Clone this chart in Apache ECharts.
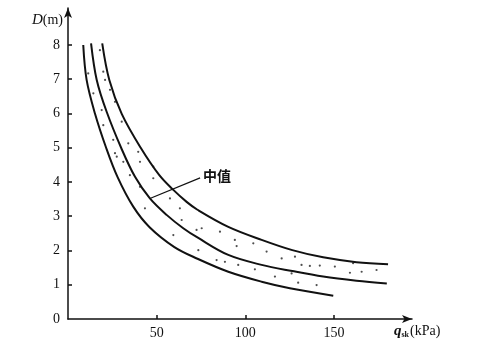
<!DOCTYPE html>
<html><head><meta charset="utf-8">
<script src="https://cdn.jsdelivr.net/npm/echarts@6/dist/echarts.min.js"></script>
<style>html,body{margin:0;padding:0;background:#fff}#c{width:477px;height:355px}</style>
</head><body><div id="c"></div>
<script>
var upperCurve = [[19.3,8.05],[23.3,6.98],[30.3,5.99],[41,5.0],[51.5,4.2],[59.4,3.77],[66.9,3.42],[73,3.19],[90.4,2.69],[109.2,2.31],[126.5,2.01],[143.9,1.80],[162.7,1.66],[180.5,1.60]];
var middleCurve = [[13,8.05],[16.2,6.98],[21.8,6.05],[30.2,4.97],[37.8,4.15],[46.2,3.52],[55.6,3.04],[65,2.65],[73,2.38],[90.4,1.87],[109.2,1.58],[126.5,1.40],[143.9,1.24],[162.7,1.12],[179.8,1.04]];
var lowerCurve = [[8.6,8.0],[10.5,6.98],[15.2,6.0],[21.5,5.0],[27.9,4.15],[36.8,3.28],[46,2.68],[60,2.1],[73,1.76],[90.4,1.38],[109.2,1.09],[125.1,0.90],[149.6,0.68]];
var stipple = [[18,7.85],[11.4,7.17],[19.9,7.22],[20.9,6.98],[14.3,6.59],[23.7,6.69],[26.5,6.34],[19,6.1],[25.5,5.23],[39.6,4.88],[27.5,4.74],[48.1,4.45],
  [19.9,5.66],[30.3,5.76],[34,5.13],[40.6,4.59],[31.2,4.59],[26.5,4.84],[34.9,4.2],[48.1,4.11],[40.6,3.86],[57.5,3.52],[63.1,3.23],[43.4,3.23],[64.1,2.89],[59.4,2.45],[72.5,2.6],
  [75.4,2.65],[85.7,2.55],[94.1,2.31],[95.1,2.13],[104.5,2.21],[112,1.97],[120.5,1.77],[73.5,2.01],[83.8,1.72],[88.5,1.67],[96,1.58],[105.4,1.45],[116.7,1.24],
  [128,1.82],[131.7,1.58],[136.4,1.55],[142,1.56],[150.5,1.53],[159,1.35],[160.8,1.63],[165.6,1.38],[174,1.43],[126.1,1.33],[129.8,1.06],[140.2,0.99]];
var calloutLine = [[46.2,3.52],[74.5,4.12]];
var calloutText = '中值';
var xTicks = [50,100,150];
var yTicks = [0,1,2,3,4,5,6,7,8];
var yName = 'D';
var yUnit = '(m)';
var xName = 'q';
var xSub = 'sk';
var xUnit = '(kPa)';

var chart = echarts.init(document.getElementById('c'));
var curveStyle = {color:'#111', width:2};
function curve(d){return {type:'line', data:d, smooth:0.35, symbol:'none', lineStyle:curveStyle, silent:true};}
chart.setOption({
  animation:false,
  backgroundColor:'#fff',
  grid:{left:68, right:65, top:8, bottom:36},
  xAxis:{type:'value', min:0, max:194,
    axisLine:{show:true, onZero:false, lineStyle:{color:'#111', width:1.5}, symbol:['none','arrow'], symbolSize:[6,10], symbolOffset:[0,0]},
    axisTick:{show:true, inside:true, length:4, customValues:xTicks, lineStyle:{color:'#111', width:1.5}},
    axisLabel:{customValues:xTicks, margin:7, color:'#111', fontFamily:'Liberation Serif', fontSize:14},
    splitLine:{show:false}},
  yAxis:{type:'value', min:0, max:9.08,
    axisLine:{show:true, onZero:false, lineStyle:{color:'#111', width:1.5}, symbol:['none','arrow'], symbolSize:[6,10]},
    axisTick:{show:true, inside:true, length:4, customValues:yTicks.slice(1), lineStyle:{color:'#111', width:1.5}},
    axisLabel:{customValues:yTicks, margin:8, color:'#111', fontFamily:'Liberation Serif', fontSize:14},
    splitLine:{show:false}},
  series:[
    curve(upperCurve), curve(middleCurve), curve(lowerCurve),
    {type:'scatter', data:stipple, symbolSize:2.2, itemStyle:{color:'#222'}, silent:true},
    {type:'line', data:calloutLine, symbol:'none', lineStyle:{color:'#111', width:1.2}, silent:true,
      endLabel:{show:true, formatter:calloutText, color:'#111', fontFamily:'Noto Sans CJK SC', fontSize:14, fontWeight:'bold', distance:3, offset:[0,-2]}}
  ],
  graphic:[
    {type:'text', right:477-63, top:13, style:{text:'{i|'+yName+'}'+yUnit, fill:'#111', font:'14px Liberation Serif',
      rich:{i:{fontStyle:'italic', fontFamily:'Liberation Serif', fontSize:15, fill:'#111'}}}},
    {type:'text', left:394, top:324, style:{text:'{i|'+xName+'}{s|'+xSub+'}'+xUnit, fill:'#111', font:'14px Liberation Serif',
      rich:{i:{fontStyle:'italic', fontWeight:'bold', fontFamily:'Liberation Serif', fontSize:15, fill:'#111'},
            s:{fontFamily:'Liberation Serif', fontSize:8, fontWeight:'bold', fill:'#111', verticalAlign:'bottom', padding:[6,1,0,0]}}}}
  ]
});
</script></body></html>
